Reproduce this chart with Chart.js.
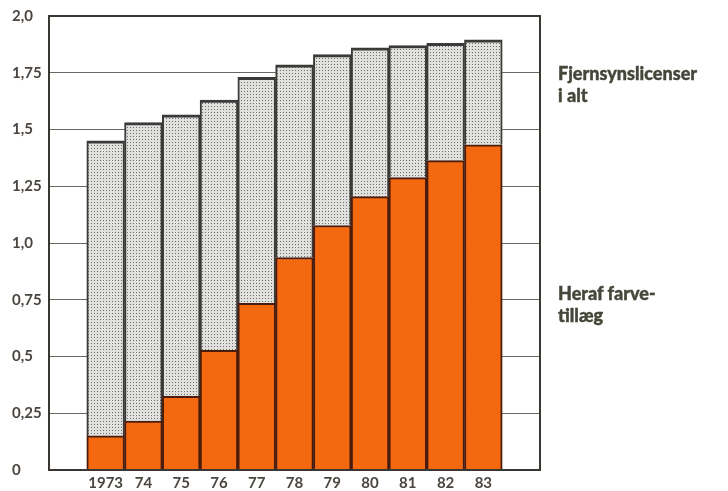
<!DOCTYPE html>
<html><head><meta charset="utf-8">
<script src="https://cdn.jsdelivr.net/npm/chart.js@4/dist/chart.umd.min.js"></script>
<style>
html,body{margin:0;padding:0;background:#fff;}
#wrap{position:relative;width:728px;height:491px;}
canvas{position:absolute;left:0;top:0;}
.lab{position:absolute;left:558px;font-family:Lato,"Open Sans",sans-serif;font-weight:900;font-size:18px;line-height:22px;color:#46463a;white-space:nowrap;-webkit-text-stroke:0.4px #46463a;}
</style></head>
<body><div id="wrap"><canvas id="c" width="728" height="491"></canvas>
<div class="lab" style="top:62px">Fjernsynslicenser<br>i alt</div>
<div class="lab" style="top:282px">Heraf farve-<br>tillæg</div>
</div>
<script>
const years = ['1973','74','75','76','77','78','79','80','81','82','83'];
const totalLicenses = [1.45,1.53,1.565,1.63,1.73,1.785,1.83,1.86,1.87,1.88,1.895];
const colourSurcharge = [0.15,0.215,0.325,0.527,0.734,0.936,1.077,1.204,1.288,1.363,1.433];
const yTicks = [0,0.25,0.5,0.75,1.0,1.25,1.5,1.75,2.0];
const yTickLabels = ['0','0,25','0,5','0,75','1,0','1,25','1,5','1,75','2,0'];

function dots(){
  const p=document.createElement('canvas');p.width=3;p.height=3;
  const g=p.getContext('2d');
  g.fillStyle='#e0e0de';g.fillRect(0,0,3,3);
  g.fillStyle='#6e6e6a';g.fillRect(1,1,1,1);
  return g.createPattern(p,'repeat');
}
const ctx=document.getElementById('c').getContext('2d');
const orangePts = colourSurcharge.map((v,i)=>({x:i,y:v}));
const greyPts = totalLicenses.map((v,i)=>({x:i,y:+(v-colourSurcharge[i]).toFixed(4)}));

const frame={id:'frame',afterDatasetsDraw(ch){
  const a=ch.chartArea,c=ch.ctx;c.save();
  c.strokeStyle='#3a3632';c.lineWidth=2;
  c.strokeRect(a.left,a.top,a.right-a.left,a.bottom-a.top);
  c.restore();}};

new Chart(ctx,{
  type:'bar',
  data:{datasets:[
    {label:'Heraf farvetillæg',data:orangePts,backgroundColor:'#f4680f',borderColor:'#4a1c0c',borderWidth:{top:2,left:2,right:2,bottom:0},borderSkipped:false,barPercentage:1,categoryPercentage:1},
    {label:'Fjernsynslicenser i alt',data:greyPts,backgroundColor:dots(),borderColor:'#3c3a38',borderWidth:{top:3,left:2,right:2,bottom:0},borderSkipped:false,barPercentage:1,categoryPercentage:1}
  ]},
  options:{
    responsive:false,animation:false,
    layout:{padding:{left:12,right:188,top:16,bottom:0}},
    plugins:{legend:{display:false},tooltip:{enabled:false}},
    scales:{
      x:{type:'linear',stacked:true,min:-1.5,max:11.5,offset:false,
        grid:{display:false,drawTicks:false},border:{display:true,color:'#3a3632',width:2},
        afterBuildTicks(s){s.ticks=years.map((y,i)=>({value:i}));},
        ticks:{autoSkip:false,maxRotation:0,color:'#4b4540',padding:4,
          font:{family:'Lato',size:15,weight:'bold'},
          callback:(v)=>years[v]!==undefined?years[v]:''},
        afterFit(s){s.height=21;}},
      y:{stacked:true,min:0,max:2,
        grid:{color:'#6a6662',lineWidth:1,drawTicks:false},
        border:{display:true,color:'#3a3632',width:2},
        afterBuildTicks(s){s.ticks=yTicks.map(v=>({value:v}));},
        ticks:{crossAlign:'far',padding:4,color:'#4b4540',font:{family:'Lato',size:15,weight:'bold'},
          callback:(v)=>{const i=yTicks.indexOf(v);return i>=0?yTickLabels[i]:'';}},
        afterFit(s){s.width=37;}}
    }
  },
  plugins:[frame]
});
</script></body></html>
